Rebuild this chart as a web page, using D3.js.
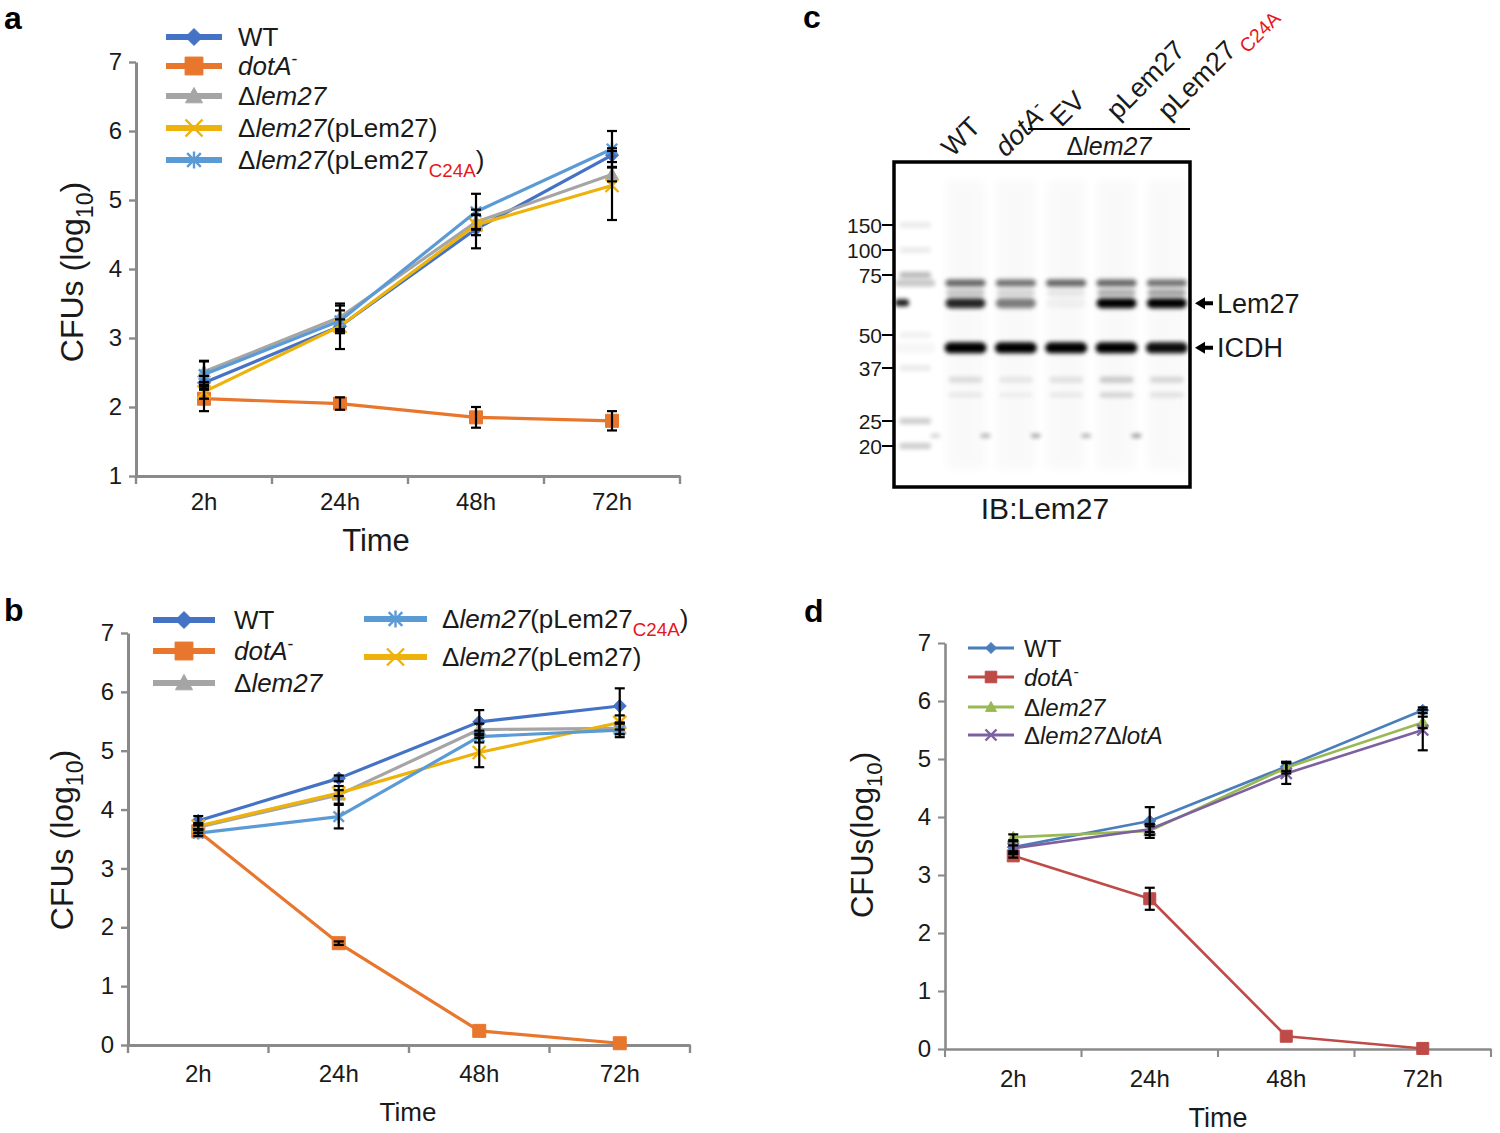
<!DOCTYPE html>
<html>
<head>
<meta charset="utf-8">
<script src="https://cdn.jsdelivr.net/npm/d3@7"></script>
<style>
  html,body{margin:0;padding:0;background:#fff;}
  svg{display:block;font-family:"Liberation Sans",Arial,sans-serif;}
</style>
</head>
<body>
<script>
// ---------------- DATA ----------------
const times = ["2h", "24h", "48h", "72h"];
const yTicksA = [1, 2, 3, 4, 5, 6, 7];
const yTicksB = [0, 1, 2, 3, 4, 5, 6, 7];
const yTicksD = [0, 1, 2, 3, 4, 5, 6, 7];

// Panel a
const aWT = [2.35, 3.17, 4.58, 5.65];
const aWTErr = [0.1, 0.33, 0.28, 0.1];
const aDotA = [2.12, 2.05, 1.85, 1.8];
const aDotAErr = [0.18, 0.09, 0.15, 0.14];
const aLem27 = [2.51, 3.3, 4.68, 5.37];
const aLem27Err = [0.15, 0.17, 0.1, 0.1];
const aComp = [2.22, 3.17, 4.64, 5.21];
const aCompErr = [0.1, 0.1, 0.15, 0.5];
const aC24A = [2.47, 3.25, 4.83, 5.74];
const aC24AErr = [0.2, 0.15, 0.26, 0.26];

// Panel b
const bWT = [3.81, 4.53, 5.49, 5.76];
const bWTErr = [0.08, 0.05, 0.2, 0.3];
const bDotA = [3.63, 1.73, 0.24, 0.03];
const bDotAErr = [0.03, 0.03, 0, 0];
const bLem27 = [3.7, 4.25, 5.36, 5.38];
const bLem27Err = [0.05, 0.15, 0.1, 0.1];
const bComp = [3.72, 4.28, 4.97, 5.48];
const bCompErr = [0.05, 0.05, 0.25, 0.12];
const bC24A = [3.6, 3.88, 5.24, 5.35];
const bC24AErr = [0.05, 0.2, 0.1, 0.12];

// Panel d
const dWT = [3.48, 3.93, 4.87, 5.84];
const dWTErr = [0.1, 0.24, 0.08, 0.05];
const dDotA = [3.33, 2.59, 0.22, 0.01];
const dDotAErr = [0.03, 0.19, 0, 0];
const dLem27 = [3.65, 3.76, 4.85, 5.63];
const dLem27Err = [0.05, 0.12, 0.1, 0.1];
const dLotA = [3.46, 3.79, 4.75, 5.5];
const dLotAErr = [0.05, 0.05, 0.18, 0.35];

// Legend labels (rich text segments)
const lblWT = [{t: "WT"}];
const lblDotA = [{t: "dotA", i: 1}, {t: "-", sup: 1}];
const lblLem27 = [{t: "Δ"}, {t: "lem27", i: 1}];
const lblComp = [{t: "Δ"}, {t: "lem27", i: 1}, {t: "(pLem27)"}];
const lblC24A = [{t: "Δ"}, {t: "lem27", i: 1}, {t: "(pLem27"}, {t: "C24A", sub: 1, c: "#e8151b"}, {t: ")"}];
const lblLotA = [{t: "Δ"}, {t: "lem27", i: 1}, {t: "Δ"}, {t: "lotA", i: 1}];

// Panel c (western blot)
const blotLanes = ["M", "WT", "dotA", "EV", "pLem27", "pLem27C24A"];
const mwMarkers = [150, 100, 75, 50, 37, 25, 20];
const ladderIntensity = [0.08, 0.08, 0.28, 0.06, 0.08, 0.2, 0.2];
const band71 = [0.22, 0.6, 0.55, 0.6, 0.6, 0.55];
const band66 = [0.0, 0.22, 0.15, 0.08, 0.3, 0.35];
const bandLem27 = [0.0, 0.85, 0.5, 0.04, 1.0, 1.0];
const bandICDH = [0.03, 1.0, 1.0, 1.0, 1.0, 0.95];
const band34 = [0.0, 0.12, 0.08, 0.1, 0.2, 0.14];
const band30 = [0.0, 0.07, 0.05, 0.07, 0.16, 0.1];
const band22 = [0.18, 0.3, 0.35, 0.3, 0.4, 0.0];
const kDa71 = 71, kDa66 = 66.5, kDaLem27 = 62, kDaICDH = 44.5, kDa34 = 33.9, kDa30 = 30.3, kDa22 = 21.9;

// ---------------- SETUP ----------------
const W = 1500, H = 1133;
const svg = d3.select("body").append("svg").attr("width", W).attr("height", H);
svg.append("rect").attr("width", W).attr("height", H).attr("fill", "#fff");
const defs = svg.append("defs");
defs.append("filter").attr("id", "blur").attr("x", "-30%").attr("y", "-150%").attr("width", "160%").attr("height", "400%")
  .append("feGaussianBlur").attr("stdDeviation", 2);
defs.append("filter").attr("id", "blur2").attr("x", "-30%").attr("y", "-20%").attr("width", "160%").attr("height", "140%")
  .append("feGaussianBlur").attr("stdDeviation", 5);

const axisColor = "#8a8a8a";
const textColor = "#1a1a1a";

function rich(sel, segs, fs) {
  let shift = 0;
  segs.forEach(s => {
    const ts = sel.append("tspan").text(s.t);
    const target = s.sub ? fs * 0.3 : s.sup ? -fs * 0.38 : 0;
    ts.attr("dy", target - shift);
    shift = target;
    if (s.sub || s.sup) ts.attr("font-size", fs * (s.sub ? 0.72 : 0.68));
    if (s.i) ts.attr("font-style", "italic");
    if (s.c) ts.attr("fill", s.c);
  });
}

function markerPath(type, s) {
  switch (type) {
    case "diamond": return `M0,${-s}L${s},0L0,${s}L${-s},0Z`;
    case "square": return `M${-s},${-s}h${2 * s}v${2 * s}h${-2 * s}Z`;
    case "triangle": return `M0,${-s}L${s},${s * 0.8}L${-s},${s * 0.8}Z`;
    case "x": return `M${-s},${-s}L${s},${s}M${-s},${s}L${s},${-s}`;
    case "star": return `M${-s * 0.8},${-s * 0.8}L${s * 0.8},${s * 0.8}M${-s * 0.8},${s * 0.8}L${s * 0.8},${-s * 0.8}M0,${-s}L0,${s}`;
  }
}
const filledMarkers = new Set(["diamond", "square", "triangle"]);

function drawMarker(g, type, cx, cy, size, color) {
  const p = g.append("path").attr("d", markerPath(type, size)).attr("transform", `translate(${cx},${cy})`);
  if (filledMarkers.has(type)) p.attr("fill", color).attr("stroke", color).attr("stroke-width", 1);
  else p.attr("fill", "none").attr("stroke", color).attr("stroke-width", 2.4);
}

function drawPanel(cfg) {
  const g = svg.append("g");
  const x = d3.scaleBand().domain(times).range(cfg.xr);
  const y = d3.scaleLinear().domain(cfg.yd).range(cfg.yr);
  const cx = t => x(t) + x.bandwidth() / 2;
  const y0 = y(cfg.yd[0]);

  // y axis
  g.append("g").attr("transform", `translate(${cfg.xr[0]},0)`)
    .call(d3.axisLeft(y).tickValues(cfg.yticks).tickSize(7).tickSizeOuter(0).tickFormat(d3.format("d")))
    .call(a => {
      a.select(".domain").attr("stroke", axisColor).attr("stroke-width", cfg.aw);
      a.selectAll(".tick line").attr("stroke", axisColor).attr("stroke-width", cfg.aw * 0.8);
      a.selectAll(".tick text").attr("font-size", cfg.tfs).attr("fill", textColor)
        .attr("font-family", "Liberation Sans, Arial, sans-serif").attr("x", -cfg.tpad);
    });
  // x axis (labels centred, ticks at band edges)
  g.append("g").attr("transform", `translate(0,${y0})`)
    .call(d3.axisBottom(x).tickSize(0).tickSizeOuter(0))
    .call(a => {
      a.select(".domain").attr("stroke", axisColor).attr("stroke-width", cfg.aw);
      a.selectAll(".tick text").attr("font-size", cfg.tfs).attr("fill", textColor)
        .attr("font-family", "Liberation Sans, Arial, sans-serif").attr("dy", 0).attr("y", cfg.xlab);
    });
  const edges = times.map(t => x(t)).concat([x.range()[1]]);
  g.selectAll("line.xt").data(edges).enter().append("line")
    .attr("x1", d => d).attr("x2", d => d).attr("y1", y0).attr("y2", y0 + 8)
    .attr("stroke", axisColor).attr("stroke-width", cfg.aw * 0.8);

  // titles
  const yt = g.append("text").attr("transform", `translate(${cfg.ytitle[0]},${cfg.ytitle[1]}) rotate(-90)`)
    .attr("text-anchor", "middle").attr("font-size", cfg.yfs).attr("fill", textColor);
  rich(yt, cfg.ytitleSegs, cfg.yfs);
  g.append("text").attr("x", cfg.xtitle[0]).attr("y", cfg.xtitle[1]).attr("text-anchor", "middle")
    .attr("font-size", cfg.xfs).attr("fill", textColor).text("Time");

  // series lines and markers
  cfg.series.forEach(s => {
    const pts = s.v.map((v, i) => [cx(times[i]), y(v)]);
    g.append("path").attr("d", d3.line()(pts)).attr("fill", "none")
      .attr("stroke", s.color).attr("stroke-width", cfg.lw).attr("stroke-linejoin", "round");
    pts.forEach(p => drawMarker(g, s.m, p[0], p[1], s.ms || cfg.ms, s.color));
  });
  // error bars
  cfg.series.forEach(s => {
    s.v.forEach((v, i) => {
      const e = s.e[i];
      if (!e) return;
      const px = cx(times[i]);
      const top = y(v + e), bot = y(v - e);
      g.append("line").attr("x1", px).attr("x2", px).attr("y1", top).attr("y2", bot).attr("stroke", "#000").attr("stroke-width", 2.2);
      [top, bot].forEach(yy => g.append("line").attr("x1", px - 5).attr("x2", px + 5).attr("y1", yy).attr("y2", yy)
        .attr("stroke", "#000").attr("stroke-width", 2.2));
    });
  });
  // legend
  cfg.legend.forEach(L => {
    const s = cfg.series[L.si];
    g.append("line").attr("x1", L.x1).attr("x2", L.x2).attr("y1", L.y).attr("y2", L.y)
      .attr("stroke", s.color).attr("stroke-width", cfg.llw);
    drawMarker(g, s.m, (L.x1 + L.x2) / 2, L.y, cfg.lms * (s.m === "square" ? 1.05 : 1), s.color);
    const t = g.append("text").attr("x", L.tx).attr("y", L.y + cfg.lfs * 0.36)
      .attr("font-size", cfg.lfs).attr("fill", textColor);
    rich(t, s.label, cfg.lfs);
  });
}

const colWT = "#4472C4", colDot = "#E8762D", colGray = "#A5A5A5", colYel = "#EDB20C", colC24A = "#5B9BD5";
const yTitleSegs = [{t: "CFUs (log"}, {t: "10", sub: 1}, {t: ")"}];
const yTitleSegsD = [{t: "CFUs(log"}, {t: "10", sub: 1}, {t: ")"}];

// Panel a
drawPanel({
  xr: [136, 680], yd: [1, 7], yr: [476, 62], yticks: yTicksA, aw: 3, tfs: 24, tpad: 14, xlab: 34,
  ytitle: [83, 272], yfs: 32, ytitleSegs: yTitleSegs, xtitle: [376, 551], xfs: 31,
  lw: 3.2, ms: 6.5, llw: 6, lms: 8.5, lfs: 26,
  series: [
    {v: aWT, e: aWTErr, color: colWT, m: "diamond", label: lblWT},
    {v: aDotA, e: aDotAErr, color: colDot, m: "square", ms: 6.5, label: lblDotA},
    {v: aLem27, e: aLem27Err, color: colGray, m: "triangle", label: lblLem27},
    {v: aComp, e: aCompErr, color: colYel, m: "x", label: lblComp},
    {v: aC24A, e: aC24AErr, color: colC24A, m: "star", label: lblC24A}
  ],
  legend: [
    {si: 0, x1: 166, x2: 222, y: 37, tx: 238},
    {si: 1, x1: 166, x2: 222, y: 66, tx: 238},
    {si: 2, x1: 166, x2: 222, y: 96, tx: 238},
    {si: 3, x1: 166, x2: 222, y: 128, tx: 238},
    {si: 4, x1: 166, x2: 222, y: 160, tx: 238}
  ]
});

// Panel b
drawPanel({
  xr: [128, 690], yd: [0, 7], yr: [1045, 633], yticks: yTicksB, aw: 3, tfs: 24, tpad: 14, xlab: 37,
  ytitle: [73, 840], yfs: 32, ytitleSegs: yTitleSegs, xtitle: [408, 1121], xfs: 26,
  lw: 3.2, ms: 6.5, llw: 6, lms: 8.5, lfs: 26,
  series: [
    {v: bWT, e: bWTErr, color: colWT, m: "diamond", label: lblWT},
    {v: bDotA, e: bDotAErr, color: colDot, m: "square", label: lblDotA},
    {v: bLem27, e: bLem27Err, color: colGray, m: "triangle", label: lblLem27},
    {v: bComp, e: bCompErr, color: colYel, m: "x", label: lblComp},
    {v: bC24A, e: bC24AErr, color: colC24A, m: "star", label: lblC24A}
  ],
  legend: [
    {si: 0, x1: 153, x2: 215, y: 620, tx: 234},
    {si: 1, x1: 153, x2: 215, y: 651, tx: 234},
    {si: 2, x1: 153, x2: 215, y: 683, tx: 234},
    {si: 4, x1: 364, x2: 427, y: 619, tx: 442},
    {si: 3, x1: 364, x2: 427, y: 657, tx: 442}
  ]
});

// Panel d
drawPanel({
  xr: [945, 1491], yd: [0, 7], yr: [1049, 643], yticks: yTicksD, aw: 2.6, tfs: 24, tpad: 14, xlab: 38,
  ytitle: [873, 835], yfs: 31, ytitleSegs: yTitleSegsD, xtitle: [1218, 1127], xfs: 27,
  lw: 2.6, ms: 6, llw: 3, lms: 5.5, lfs: 24,
  series: [
    {v: dWT, e: dWTErr, color: "#4A7EBB", m: "diamond", label: lblWT},
    {v: dDotA, e: dDotAErr, color: "#BE4B48", m: "square", label: lblDotA},
    {v: dLem27, e: dLem27Err, color: "#98B954", m: "triangle", label: lblLem27},
    {v: dLotA, e: dLotAErr, color: "#7D60A0", m: "x", ms: 5.5, label: lblLotA}
  ],
  legend: [
    {si: 0, x1: 968, x2: 1014, y: 648, tx: 1024},
    {si: 1, x1: 968, x2: 1014, y: 677, tx: 1024},
    {si: 2, x1: 968, x2: 1014, y: 707, tx: 1024},
    {si: 3, x1: 968, x2: 1014, y: 735, tx: 1024}
  ]
});

// ---------------- Panel c: western blot ----------------
(function () {
  const g = svg.append("g");
  const box = {x0: 894, x1: 1190, y0: 162, y1: 487};
  const lane = d3.scaleBand().domain(blotLanes).range([890, 1192]);
  const lc = l => lane(l) + lane.bandwidth() / 2;
  const mw = d3.scaleLog().domain(mwMarkers).range([225, 250, 275, 335, 368, 421, 446]);
  const bw = 40;

  const blot = g.append("g");
  // faint lane smears
  blotLanes.slice(1).forEach(l => {
    blot.append("rect").attr("x", lc(l) - bw / 2).attr("y", 180).attr("width", bw).attr("height", 290)
      .attr("fill", "#000").attr("opacity", 0.02).attr("filter", "url(#blur2)");
  });
  function bands(arr, kDa, h, wAdj, dx) {
    arr.forEach((v, i) => {
      if (v <= 0) return;
      const l = blotLanes[i];
      const w = bw + (wAdj || 0);
      blot.append("rect").attr("x", lc(l) + (dx || 0) - w / 2).attr("y", mw(kDa) - h / 2)
        .attr("width", w).attr("height", h).attr("rx", h / 2)
        .attr("fill", "#000").attr("opacity", Math.min(1, v)).attr("filter", "url(#blur)");
    });
  }
  // ladder
  mwMarkers.forEach((k, i) => {
    blot.append("rect").attr("x", lc("M") - 16).attr("y", mw(k) - 3).attr("width", 32).attr("height", 6).attr("rx", 3)
      .attr("fill", "#000").attr("opacity", ladderIntensity[i]).attr("filter", "url(#blur)");
  });
  blot.append("rect").attr("x", 895).attr("y", mw(kDaLem27) - 4).attr("width", 14).attr("height", 7).attr("rx", 3)
    .attr("fill", "#000").attr("opacity", 0.9).attr("filter", "url(#blur)");
  bands(band71, kDa71, 7, 0);
  bands(band66, kDa66, 7, -2);
  bands(bandLem27, kDaLem27, 10, 0);
  bands(bandICDH, kDaICDH, 11, 2);
  bands(band34, kDa34, 6, -6);
  bands(band30, kDa30, 5, -6);
  bands(band22, kDa22, 4, -30, 20);

  // frame
  g.append("rect").attr("x", box.x0).attr("y", box.y0).attr("width", box.x1 - box.x0).attr("height", box.y1 - box.y0)
    .attr("fill", "none").attr("stroke", "#000").attr("stroke-width", 3.5);

  // MW marker labels
  mwMarkers.forEach(k => {
    g.append("line").attr("x1", 882).attr("x2", box.x0).attr("y1", mw(k)).attr("y2", mw(k)).attr("stroke", "#000").attr("stroke-width", 2);
    g.append("text").attr("x", 882).attr("y", mw(k) + 7.5).attr("text-anchor", "end").attr("font-size", 21)
      .attr("fill", textColor).text(k);
  });

  // right-side arrows
  [[kDaLem27, "Lem27"], [kDaICDH, "ICDH"]].forEach(([k, name]) => {
    const yy = mw(k);
    g.append("path").attr("d", `M1195,${yy}L1205,${yy - 6}L1205,${yy - 2}L1213,${yy - 2}L1213,${yy + 2}L1205,${yy + 2}L1205,${yy + 6}Z`)
      .attr("fill", "#000");
    g.append("text").attr("x", 1217).attr("y", yy + 9.5).attr("font-size", 27).attr("fill", textColor).text(name);
  });

  // lane labels (rotated)
  const laneLabels = [
    {l: "WT", segs: [{t: "WT"}], y: 158, dx: -13},
    {l: "dotA", segs: [{t: "dotA", i: 1}, {t: "-", sup: 1}], y: 158, dx: -10},
    {l: "EV", segs: [{t: "EV"}], y: 128, dx: -5},
    {l: "pLem27", segs: [{t: "pLem27"}], y: 121, dx: 1},
    {l: "pLem27C24A", segs: [{t: "pLem27"}, {t: " C24A", sub: 1, c: "#e8151b"}], y: 121, dx: 2}
  ];
  laneLabels.forEach(L => {
    const t = g.append("text").attr("transform", `translate(${lc(L.l) + L.dx},${L.y}) rotate(-45)`)
      .attr("font-size", 27).attr("fill", textColor);
    rich(t, L.segs, 27);
  });
  g.append("line").attr("x1", lane("EV") - 13).attr("x2", box.x1).attr("y1", 129).attr("y2", 129)
    .attr("stroke", "#000").attr("stroke-width", 2);
  const dl = g.append("text").attr("x", (lane("EV") - 13 + box.x1) / 2).attr("y", 155).attr("text-anchor", "middle")
    .attr("font-size", 25).attr("fill", textColor);
  rich(dl, [{t: "Δ"}, {t: "lem27", i: 1}], 25);

  g.append("text").attr("x", 1045).attr("y", 519).attr("text-anchor", "middle").attr("font-size", 30)
    .attr("fill", textColor).text("IB:Lem27");
})();

// panel letters
[["a", 4, 29], ["b", 4, 621], ["c", 803, 28], ["d", 804, 622]].forEach(([t, x, y]) => {
  svg.append("text").attr("x", x).attr("y", y).attr("font-size", 32).attr("font-weight", "bold")
    .attr("fill", "#000").text(t);
});
</script>
</body>
</html>
